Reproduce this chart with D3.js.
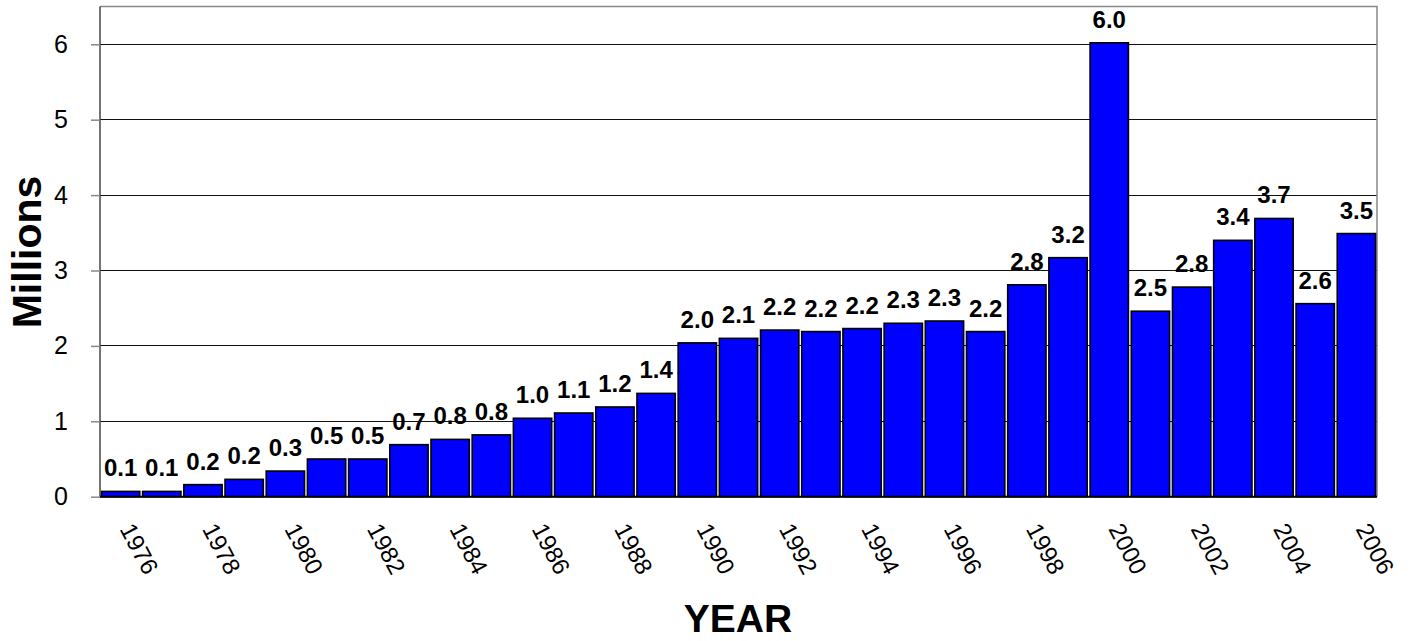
<!DOCTYPE html>
<html>
<head>
<meta charset="utf-8">
<script src="https://cdn.jsdelivr.net/npm/d3@7"></script>
<style>
  html, body { margin: 0; padding: 0; background: #fff; }
  svg { display: block; font-family: "Liberation Sans", Arial, sans-serif; }
</style>
</head>
<body>
<svg id="chart" width="1411" height="641"></svg>
<script>
// data (millions per year)
const years = d3.range(1976, 2007);
const values = [
  0.07, 0.07, 0.16, 0.23, 0.34, 0.50, 0.50, 0.69, 0.76, 0.82,
  1.04, 1.11, 1.19, 1.37, 2.04, 2.10, 2.21, 2.19, 2.23, 2.30,
  2.33, 2.19, 2.81, 3.17, 6.02, 2.46, 2.78, 3.40, 3.69, 2.56,
  3.49
];
const yTicks = [0, 1, 2, 3, 4, 5, 6];
const xTickYears = years.filter(y => y % 2 === 0);

const data = years.map((y, i) => ({ year: y, value: values[i] }));

const svg = d3.select("#chart");
const plotLeft = 100, plotRight = 1377, plotTop = 6.6, plotBottom = 496.7;

const x = d3.scaleBand()
  .domain(years)
  .range([plotLeft, plotRight])
  .paddingInner(0.07)
  .paddingOuter(0.035);

const y = d3.scaleLinear()
  .domain([0, 6.5])
  .range([plotBottom, plotTop]);

// gridlines
svg.append("g")
  .selectAll("line")
  .data(yTicks.filter(d => d > 0))
  .enter().append("line")
  .attr("x1", plotLeft)
  .attr("x2", plotRight)
  .attr("y1", d => y(d))
  .attr("y2", d => y(d))
  .attr("stroke", "#111")
  .attr("stroke-width", 1)
  .attr("shape-rendering", "crispEdges");

// plot border (top, right)
svg.append("path")
  .attr("d", `M${plotLeft},${plotTop}H${plotRight}V${plotBottom}`)
  .attr("fill", "none")
  .attr("stroke", "#888")
  .attr("stroke-width", 1.5);

// bars
svg.append("g")
  .selectAll("rect")
  .data(data)
  .enter().append("rect")
  .attr("x", d => x(d.year))
  .attr("y", d => y(d.value))
  .attr("width", x.bandwidth())
  .attr("height", d => plotBottom - y(d.value))
  .attr("fill", "#0000ff")
  .attr("stroke", "#000")
  .attr("stroke-width", 1.6);

// value labels
svg.append("g")
  .selectAll("text")
  .data(data)
  .enter().append("text")
  .attr("x", d => x(d.year) + x.bandwidth() / 2)
  .attr("y", d => y(d.value) - 15)
  .attr("text-anchor", "middle")
  .style("font-size", "24px")
  .style("font-weight", "bold")
  .text(d => d.value.toFixed(1));

// y axis
const yAxis = svg.append("g")
  .attr("transform", `translate(${plotLeft},0)`)
  .call(d3.axisLeft(y).tickValues(yTicks).tickSize(9).tickPadding(23).tickFormat(d3.format("d")));
yAxis.select(".domain").attr("stroke", "#444").attr("stroke-width", 1.5).attr("d", `M0,${plotTop}V${plotBottom}`);
yAxis.selectAll(".tick line").attr("stroke", "#888").attr("stroke-width", 1.5);
yAxis.selectAll(".tick text")
  .style("font-size", "25px")
  .style("font-family", "'Liberation Sans', Arial, sans-serif")
  .attr("fill", "#000");

// baseline
svg.append("line")
  .attr("x1", plotLeft).attr("x2", plotRight)
  .attr("y1", plotBottom).attr("y2", plotBottom)
  .attr("stroke", "#000").attr("stroke-width", 2);

// x tick labels (rotated)
svg.append("g")
  .selectAll("text")
  .data(xTickYears)
  .enter().append("text")
  .attr("transform", d => `translate(${x(d) + x.bandwidth() / 2 + 14},521) rotate(62)`)
  .attr("dy", "0.72em")
  .attr("text-anchor", "start")
  .style("font-size", "24px")
  .text(d => d);

// axis titles
svg.append("text")
  .attr("transform", "translate(41,252) rotate(-90)")
  .attr("text-anchor", "middle")
  .style("font-size", "41px")
  .style("font-weight", "bold")
  .text("Millions");

svg.append("text")
  .attr("x", 738)
  .attr("y", 632)
  .attr("text-anchor", "middle")
  .style("font-size", "39px")
  .style("font-weight", "bold")
  .text("YEAR");
</script>
</body>
</html>
